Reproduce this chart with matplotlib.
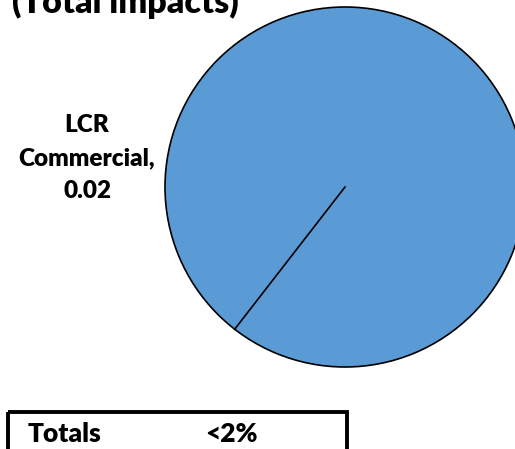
import numpy as np
import matplotlib.pyplot as plt
from matplotlib.patches import Rectangle

labels = ['LCR Commercial']
values = [0.02]
title = '(Total impacts)'
total_label = 'Totals'
total_value = '<2%'

W, H = 515, 449
fig = plt.figure(figsize=(W / 100, H / 100), dpi=100)
ax = fig.add_axes([0, 0, 1, 1])

cx, cy, r = 345, 187, 180
start = 127.8
ax.pie(values, colors=['#5B9BD5'], startangle=start, counterclock=False,
       center=(cx, cy), radius=r, frame=True,
       wedgeprops=dict(edgecolor='black', linewidth=1.2))
# a single full slice draws no radial edge, so add it
a = np.deg2rad(start)
ax.plot([cx, cx + r * np.cos(a)], [cy, cy + r * np.sin(a)], color='black', lw=1.2)
ax.set_xlim(0, W)
ax.set_ylim(H, 0)
ax.set_aspect('equal')
ax.axis('off')

font = ['Lato', 'DejaVu Sans']
ax.text(12, 13, title, fontsize=24.5, fontweight='heavy', family=font,
        ha='left', va='baseline')
ax.text(87, 158, 'LCR\nCommercial,\n' + f'{values[0]:.2f}',
        fontsize=17.5, fontweight='heavy', family=font, ha='center', va='center',
        linespacing=1.6)

ax.add_patch(Rectangle((8, 412), 339, 60, fill=False, edgecolor='black',
                       linewidth=2.8, clip_on=False))
ax.text(28, 442, total_label, fontsize=19, fontweight='heavy', family=font,
        ha='left', va='baseline')
ax.text(205, 442, total_value, fontsize=19, fontweight='heavy', family=font,
        ha='left', va='baseline')

fig.savefig('out.png', dpi=100)
